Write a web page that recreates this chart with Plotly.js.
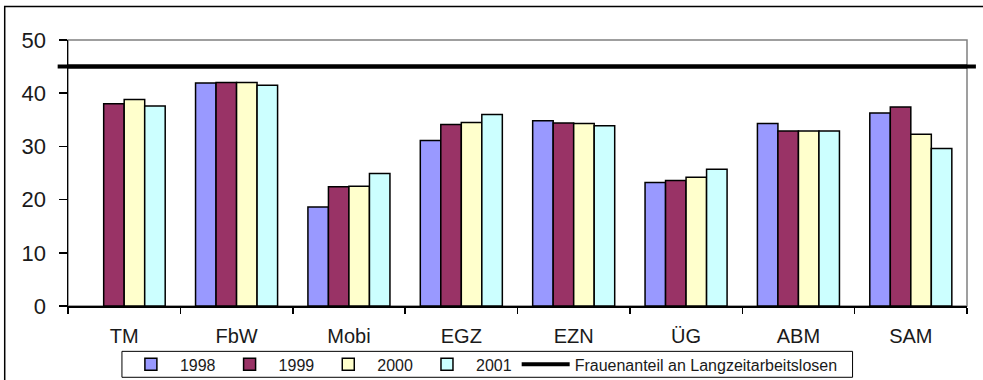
<!DOCTYPE html>
<html>
<head>
<meta charset="utf-8">
<script src="https://cdn.plot.ly/plotly-3.0.1.min.js"></script>
<style>
html,body{margin:0;padding:0;background:#fff;}
#chart{width:983px;height:380px;}
</style>
</head>
<body>
<div id="chart"></div>
<script>
const categories = ["TM", "FbW", "Mobi", "EGZ", "EZN", "ÜG", "ABM", "SAM"];
const years = ["1998", "1999", "2000", "2001"];
const v1998 = [null, 41.9, 18.6, 31.1, 34.8, 23.2, 34.3, 36.3];
const v1999 = [38.0, 42.0, 22.4, 34.1, 34.4, 23.6, 32.9, 37.4];
const v2000 = [38.8, 42.0, 22.5, 34.5, 34.3, 24.2, 32.9, 32.3];
const v2001 = [37.6, 41.5, 24.9, 36.0, 33.9, 25.7, 32.9, 29.6];
const frauenanteil = 45;
const lineLabel = "Frauenanteil an Langzeitarbeitslosen";
const yTicks = [0, 10, 20, 30, 40, 50];

const colors = ["#9999FF", "#993366", "#FFFFCC", "#CCFFFF"];
const series = [v1998, v1999, v2000, v2001];

const traces = series.map((vals, i) => ({
  type: "bar",
  name: years[i],
  x: categories,
  y: vals,
  marker: {color: colors[i], line: {color: "#000000", width: 1.5}},
  hoverinfo: "x+y+name"
}));

traces.push({
  type: "scatter",
  mode: "lines",
  name: lineLabel,
  x: [0, 1],
  y: [frauenanteil, frauenanteil],
  xaxis: "x2",
  line: {color: "#000000", width: 4}
});

const font = {family: "Arial, 'Liberation Sans', sans-serif", color: "#1a1a1a"};

const layout = {
  width: 983,
  height: 380,
  margin: {l: 68, r: 15.5, t: 40, b: 74.3, pad: 0, autoexpand: false},
  paper_bgcolor: "#ffffff",
  plot_bgcolor: "#ffffff",
  font: Object.assign({size: 17}, font),
  barmode: "group",
  bargap: 0.27,
  bargroupgap: 0,
  showlegend: true,
  legend: {
    orientation: "h",
    xref: "container", yref: "container",
    x: 0.124, xanchor: "left",
    y: 0.041, yanchor: "middle",
    borderwidth: 0,
    bgcolor: "rgba(0,0,0,0)",
    font: Object.assign({size: 16}, font),
    traceorder: "normal",
    itemwidth: 48
  },
  xaxis: {
    type: "category",
    categoryorder: "array",
    categoryarray: categories,
    automargin: false,
    showline: true,
    linecolor: "#000000",
    linewidth: 1.5,
    ticks: "outside",
    tickson: "boundaries",
    ticklen: 6,
    tickcolor: "#000000",
    tickwidth: 1.5,
    showgrid: false,
    zeroline: false,
    tickfont: Object.assign({size: 20}, font),
    ticklabelstandoff: 11
  },
  xaxis2: {
    overlaying: "x",
    range: [0, 1],
    visible: false,
    fixedrange: true
  },
  yaxis: {
    range: [0, 50],
    tickvals: yTicks,
    automargin: false,
    showline: true,
    linecolor: "#000000",
    linewidth: 1.5,
    ticks: "outside",
    ticklen: 8,
    tickcolor: "#000000",
    tickwidth: 1.5,
    showgrid: false,
    zeroline: false,
    tickfont: Object.assign({size: 22}, font),
    ticklabelstandoff: 8
  },
  shapes: [
    {type: "rect", xref: "paper", yref: "paper", x0: 0, x1: 1, y0: 0, y1: 1,
     line: {color: "#808080", width: 1.5}, layer: "below"},
    {type: "line", xref: "paper", yref: "y", x0: -0.0115, x1: 1.0099,
     y0: frauenanteil, y1: frauenanteil, line: {color: "#000000", width: 4}, layer: "above"},
    {type: "rect", xref: "paper", yref: "paper", x0: -0.0704, x1: 1.2, y0: -0.6, y1: 1.126,
     line: {color: "#000000", width: 1.5}, layer: "below"},
    {type: "rect", xref: "paper", yref: "paper", x0: 0.060, x1: 0.8727, y0: -0.268, y1: -0.1705,
     line: {color: "#000000", width: 1}, fillcolor: "rgba(0,0,0,0)", layer: "below"}
  ]
};

Plotly.newPlot("chart", traces, layout, {displayModeBar: false, staticPlot: true});
</script>
</body>
</html>
